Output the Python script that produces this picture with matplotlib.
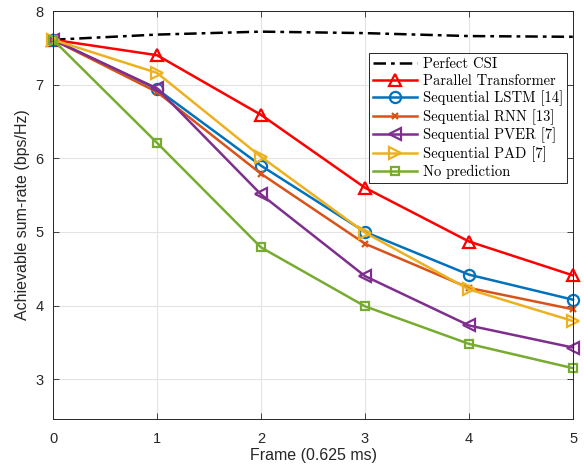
import numpy as np
import matplotlib
matplotlib.use('Agg')
import matplotlib.pyplot as plt

frames = [0, 1, 2, 3, 4, 5]
perfect_csi = [7.61, 7.68, 7.72, 7.70, 7.66, 7.65]
parallel_tf = [7.61, 7.40, 6.59, 5.60, 4.87, 4.41]
seq_lstm = [7.61, 6.94, 5.90, 5.00, 4.42, 4.08]
seq_rnn = [7.61, 6.90, 5.79, 4.84, 4.24, 3.95]
seq_pver = [7.61, 6.95, 5.51, 4.40, 3.73, 3.43]
seq_pad = [7.61, 7.16, 6.02, 4.99, 4.22, 3.79]
no_pred = [7.61, 6.21, 4.79, 3.99, 3.48, 3.15]

plt.rcParams['font.family'] = ['Liberation Sans', 'DejaVu Sans']

fig = plt.figure(figsize=(5.84, 4.71), dpi=100)
ax = fig.add_axes([0.0908, 0.1104, 0.8904, 0.8662])

lw = 1.8
ms = 8
mew = 1.6
ax.plot(frames, perfect_csi, color='k', lw=lw, dashes=(5, 2, 1.5, 2), label='Perfect CSI', clip_on=False)
ax.plot(frames, parallel_tf, color=(1, 0, 0), lw=lw, marker='^', ms=ms, mfc='none', mew=mew,
        label='Parallel Transformer', clip_on=False)
ax.plot(frames, seq_lstm, color=(0, 0.447, 0.741), lw=lw, marker='o', ms=ms, mfc='none', mew=mew,
        label='Sequential LSTM [14]', clip_on=False)
ax.plot(frames, seq_rnn, color=(0.85, 0.325, 0.098), lw=lw, marker='x', ms=5, mew=mew,
        label='Sequential RNN [13]', clip_on=False)
ax.plot(frames, seq_pver, color=(0.494, 0.184, 0.556), lw=lw, marker='<', ms=ms, mfc='none', mew=mew,
        label='Sequential PVER [7]', clip_on=False)
ax.plot(frames, seq_pad, color=(0.929, 0.694, 0.125), lw=lw, marker='>', ms=ms, mfc='none', mew=mew,
        label='Sequential PAD [7]', clip_on=False)
ax.plot(frames, no_pred, color=(0.466, 0.674, 0.188), lw=lw, marker='s', ms=6, mfc='none', mew=mew,
        label='No prediction', clip_on=False)

ax.set_xlim(0, 5)
ax.set_ylim(2.46, 8)
ax.set_xticks(frames)
ax.set_yticks([3, 4, 5, 6, 7, 8])
ax.grid(True, color='#e3e3e3', lw=0.8)
ax.set_axisbelow(True)
ax.tick_params(direction='in', top=True, right=True, labelsize=10.5, colors='#262626',
               length=4, width=0.6)
ax.tick_params(axis='x', pad=9)
ax.tick_params(axis='y', pad=7)
for s in ax.spines.values():
    s.set_color('#262626')
    s.set_linewidth(0.7)
ax.set_xlabel('Frame (0.625 ms)', fontsize=11.5, color='#262626', labelpad=2)
ax.set_ylabel('Achievable sum-rate (bps/Hz)', fontsize=11.5, color='#262626')

leg = ax.legend(loc='upper right', bbox_to_anchor=(0.989, 0.897), borderaxespad=0,
                prop={'family': ['cmr10', 'DejaVu Serif'], 'size': 10.5},
                fancybox=False, framealpha=1, edgecolor='#262626',
                handlelength=3.0, labelspacing=0.2, handletextpad=0.4, borderpad=0.3)
leg.get_frame().set_linewidth(0.7)

fig.savefig('out.png', dpi=100)
